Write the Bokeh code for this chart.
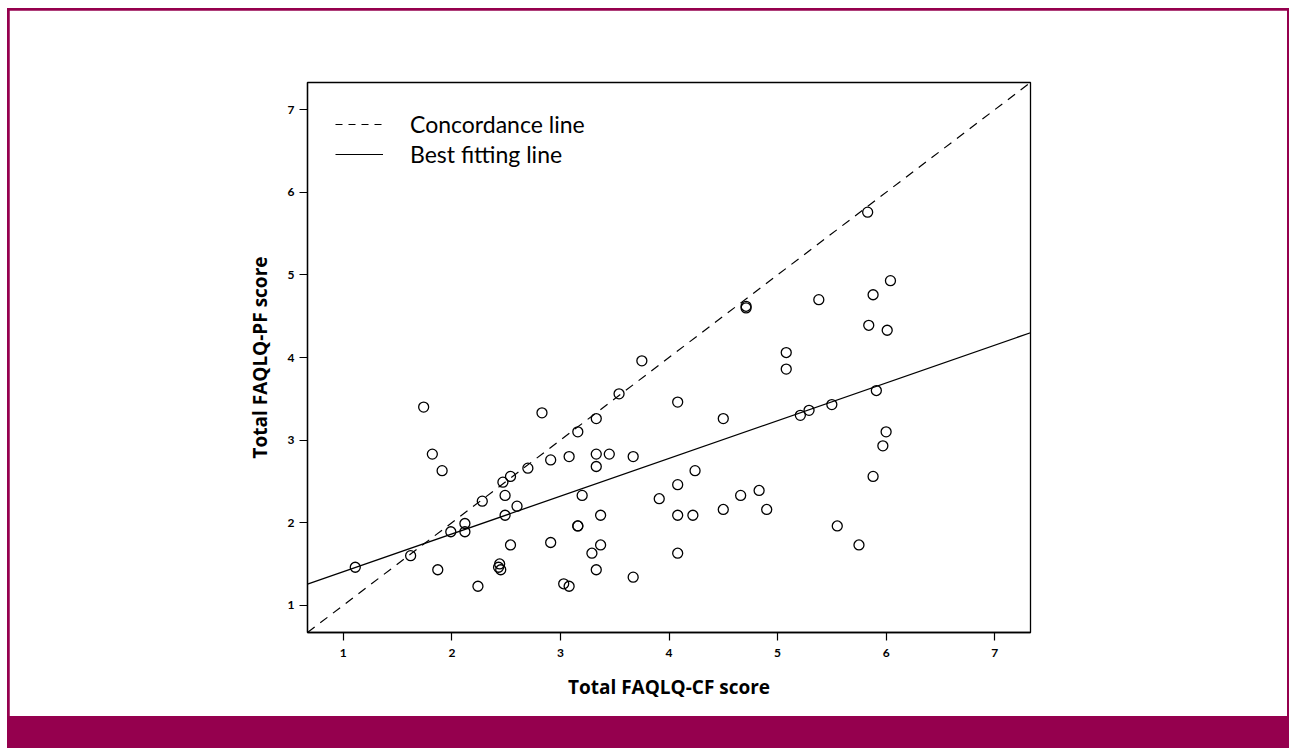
import numpy as np
from bokeh.plotting import figure
from bokeh.models import Range1d, FixedTicker, Legend, LegendItem, Spacer, ColumnDataSource
from bokeh.layouts import column
from bokeh.embed import file_html
from bokeh.resources import INLINE

# ---- data ----
cf_score = [1.11, 1.62, 1.74, 1.82, 1.87, 1.91, 1.99, 2.12, 2.12, 2.24,
            2.28, 2.44, 2.43, 2.45, 2.47, 2.49, 2.49, 2.54, 2.54, 2.60,
            2.70, 2.83, 2.91, 2.91, 3.03, 3.08, 3.08, 3.16, 3.16, 3.16,
            3.20, 3.29, 3.33, 3.33, 3.33, 3.33, 3.37, 3.37, 3.45, 3.54,
            3.67, 3.67, 3.75, 3.91, 4.08, 4.08, 4.08, 4.08, 4.22, 4.24,
            4.50, 4.50, 4.66, 4.71, 4.71, 4.83, 4.90, 5.08, 5.08, 5.21,
            5.29, 5.38, 5.50, 5.55, 5.75, 5.83, 5.84, 5.88, 5.88, 5.91,
            5.97, 6.00, 6.01, 6.04]
pf_score = [1.46, 1.60, 3.40, 2.83, 1.43, 2.63, 1.89, 1.99, 1.89, 1.23,
            2.26, 1.50, 1.46, 1.43, 2.49, 2.33, 2.09, 2.56, 1.73, 2.20,
            2.66, 3.33, 2.76, 1.76, 1.26, 1.23, 2.80, 3.10, 1.96, 1.96,
            2.33, 1.63, 3.26, 2.83, 2.68, 1.43, 2.09, 1.73, 2.83, 3.56,
            2.80, 1.34, 3.96, 2.29, 3.46, 2.46, 2.09, 1.63, 2.09, 2.63,
            3.26, 2.16, 2.33, 4.62, 4.60, 2.39, 2.16, 4.06, 3.86, 3.30,
            3.36, 4.70, 3.43, 1.96, 1.73, 5.76, 4.39, 4.76, 2.56, 3.60,
            2.93, 3.10, 4.33, 4.93]
axis_ticks = [1, 2, 3, 4, 5, 6, 7]
axis_range = [0.67, 7.33]
fit_intercept = 0.95
fit_slope = 0.457

x_label = "Total FAQLQ-CF score"
y_label = "Total FAQLQ-PF score"
legend_labels = ["Concordance line", "Best fitting line"]

CRIMSON = "#95004E"
AXIS_FONT = "Open Sans"
LEGEND_FONT = "Lato"

p = figure(width=1278, height=706, output_backend="svg", toolbar_location=None,
           x_range=Range1d(*axis_range), y_range=Range1d(*axis_range),
           min_border_left=298, min_border_right=257,
           min_border_top=72, min_border_bottom=84,
           background_fill_color="white", border_fill_color="white")
p.grid.visible = False
p.outline_line_color = "black"
p.outline_line_width = 1.3

for ax in (p.xaxis[0], p.yaxis[0]):
    ax.ticker = FixedTicker(ticks=axis_ticks)
    ax.minor_tick_line_color = None
    ax.major_tick_in = 0
    ax.major_tick_out = 8
    ax.major_tick_line_width = 1.2
    ax.axis_line_width = 1.3
    ax.major_label_text_font = LEGEND_FONT
    ax.major_label_text_font_style = "bold"
    ax.major_label_text_font_size = "12px"
    ax.major_label_text_color = "black"
    ax.axis_label_text_font = AXIS_FONT
    ax.axis_label_text_font_style = "bold"
    ax.axis_label_text_font_size = "19px"
    ax.axis_label_text_color = "black"

p.xaxis.axis_label = x_label
p.yaxis.axis_label = y_label
p.xaxis.major_label_standoff = 8
p.yaxis.major_label_standoff = 5
p.xaxis.axis_label_standoff = 14
p.yaxis.axis_label_standoff = 12

# concordance line (y = x across the axis range)
conc = p.line(x=axis_range, y=axis_range, line_color="black", line_width=1.2, line_dash="9 7")
# best fitting line
fit_x = np.array(axis_range)
fit_y = fit_intercept + fit_slope * fit_x
fit = p.line(x=fit_x, y=fit_y, line_color="black", line_width=1.3)

src = ColumnDataSource(dict(cf=cf_score, pf=pf_score))
p.scatter("cf", "pf", source=src, marker="circle", size=10, fill_color=None,
          line_color="black", line_width=1.3)

# legend samples (invisible data, only their legend glyphs show)
leg_conc = p.line(x=[np.nan, np.nan], y=[np.nan, np.nan], line_color="black",
                  line_width=1.2, line_dash="7 6")
leg_fit = p.line(x=[np.nan, np.nan], y=[np.nan, np.nan], line_color="black", line_width=1.2)
legend = Legend(items=[LegendItem(label=legend_labels[0], renderers=[leg_conc]),
                       LegendItem(label=legend_labels[1], renderers=[leg_fit])],
                location="top_left", margin=28, padding=0, spacing=2,
                glyph_width=48, glyph_height=20, label_standoff=27,
                label_text_font=LEGEND_FONT, label_text_font_size="23px",
                label_text_color="black",
                border_line_color=None, background_fill_alpha=0)
p.add_layout(legend)

band = Spacer(width=1278, height=32)
layout = column(p, band, margin=(8, 0, 0, 7),
                styles={"background-color": CRIMSON, "padding": "2px 2px 0px 2px"})

open("out.html", "w").write(file_html(layout, INLINE))
